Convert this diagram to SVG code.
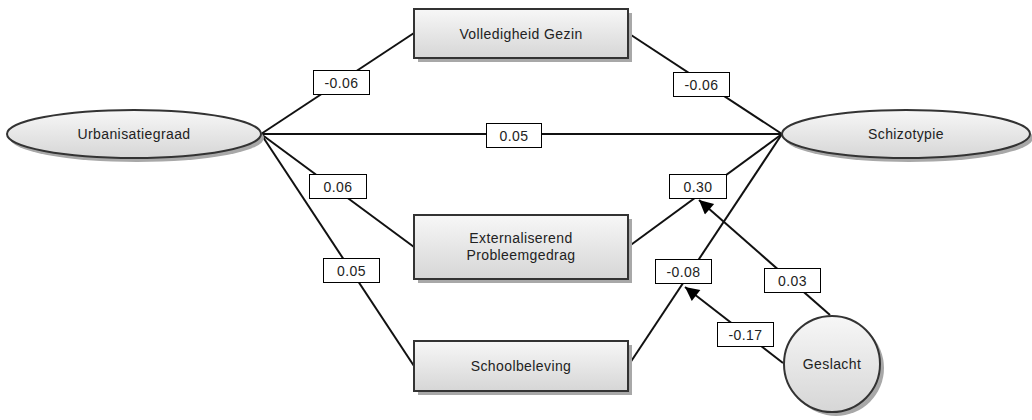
<svg xmlns="http://www.w3.org/2000/svg" width="1032" height="420" viewBox="0 0 1032 420">
<defs>
<linearGradient id="g" x1="0" y1="0" x2="0" y2="1">
<stop offset="0" stop-color="#f7f7f7"/>
<stop offset="1" stop-color="#d6d6d6"/>
</linearGradient>
<marker id="ah" viewBox="0 0 10 10" refX="10" refY="5" markerWidth="19" markerHeight="14" markerUnits="userSpaceOnUse" orient="auto">
<path d="M0,0 L10,5 L0,10 z" fill="#000"/>
</marker>
</defs>
<style>
.node{fill:url(#g);stroke:#333;stroke-width:2}
.shadow{fill:#a8a8a8}
.edge{stroke:#111;stroke-width:2;fill:none}
.lbl{fill:#fff;stroke:#000;stroke-width:1}
text{font-family:"Liberation Sans",Arial,sans-serif;font-size:14px;letter-spacing:0.4px;fill:#222;text-anchor:middle}
</style>
<rect width="1032" height="420" fill="#fff"/>
<g id="connectors">
<line class="edge" x1="261" y1="134" x2="414" y2="33"/>
<line class="edge" x1="628" y1="33" x2="782" y2="134"/>
<line class="edge" x1="261" y1="134" x2="782" y2="134"/>
<line class="edge" x1="261" y1="134" x2="414" y2="247"/>
<line class="edge" x1="261" y1="134" x2="414" y2="366"/>
<line class="edge" x1="628" y1="247" x2="782" y2="134"/>
<line class="edge" x1="628" y1="366" x2="782" y2="134"/>
<line class="edge" x1="830" y1="315" x2="699" y2="200" marker-end="url(#ah)"/>
<line class="edge" x1="783" y1="363" x2="685" y2="287" marker-end="url(#ah)"/>
<g id="labels">
<rect class="lbl" x="313.5" y="70.5" width="56" height="24"/><text x="341.5" y="87.5">-0.06</text>
<rect class="lbl" x="673.5" y="72.5" width="56" height="24"/><text x="701.5" y="89.5">-0.06</text>
<rect class="lbl" x="486.5" y="123.5" width="55" height="24"/><text x="514" y="140.5">0.05</text>
<rect class="lbl" x="309.5" y="174.5" width="57" height="24"/><text x="338" y="191.5">0.06</text>
<rect class="lbl" x="323.5" y="258.5" width="56" height="24"/><text x="351.5" y="275.5">0.05</text>
<rect class="lbl" x="669.5" y="174.5" width="57" height="24"/><text x="698" y="191.5">0.30</text>
<rect class="lbl" x="655.5" y="259.5" width="56" height="24"/><text x="683.5" y="276.5">-0.08</text>
<rect class="lbl" x="764.5" y="268.5" width="56" height="24"/><text x="792.5" y="285.5">0.03</text>
<rect class="lbl" x="717.5" y="322.5" width="56" height="24"/><text x="745.5" y="339.5">-0.17</text>
</g>
</g>
<g id="urbanisatiegraad">
<ellipse class="shadow" cx="137" cy="138" rx="127" ry="24"/>
<ellipse class="node" cx="134" cy="134" rx="127" ry="24"/>
<text x="134" y="139">Urbanisatiegraad</text>
</g>
<g id="schizotypie">
<ellipse class="shadow" cx="909" cy="138" rx="124" ry="24"/>
<ellipse class="node" cx="906" cy="134" rx="124" ry="24"/>
<text x="906" y="139">Schizotypie</text>
</g>
<g id="volledigheid">
<rect class="shadow" x="418" y="13" width="214" height="49"/>
<rect class="node" x="414" y="9" width="214" height="49"/>
<text x="521" y="39">Volledigheid Gezin</text>
</g>
<g id="externaliserend">
<rect class="shadow" x="418" y="219" width="214" height="64"/>
<rect class="node" x="414" y="215" width="214" height="64"/>
<text x="521" y="243">Externaliserend</text>
<text x="521" y="260">Probleemgedrag</text>
</g>
<g id="schoolbeleving">
<rect class="shadow" x="418" y="345" width="214" height="50"/>
<rect class="node" x="414" y="341" width="214" height="50"/>
<text x="521" y="371">Schoolbeleving</text>
</g>
<g id="geslacht">
<circle class="shadow" cx="836" cy="368" r="48"/>
<circle class="node" cx="832" cy="364" r="48"/>
<text x="832" y="369">Geslacht</text>
</g>
</svg>
